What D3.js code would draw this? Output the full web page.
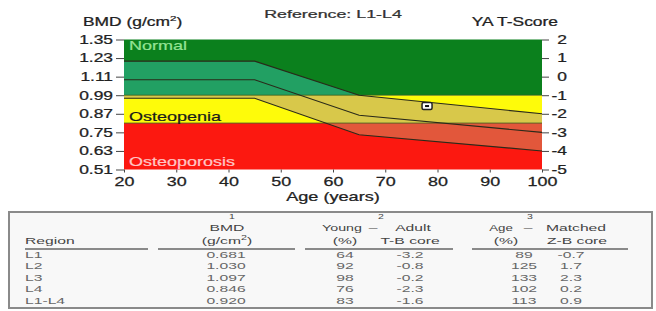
<!DOCTYPE html>
<html>
<head>
<meta charset="utf-8">
<script src="https://cdn.jsdelivr.net/npm/d3@7"></script>
<style>
body{margin:0;background:#fff;}
svg{display:block;font-family:"Liberation Sans",Arial,sans-serif;}
</style>
</head>
<body>
<svg id="chart" width="656" height="311"></svg>
<script>
// reference curve (age vs BMD)
var ages      = [20, 45, 65, 100];
var upperLine = [1.21, 1.21, 0.99, 0.87];
var meanLine  = [1.09, 1.09, 0.86, 0.75];
var lowerLine = [0.97, 0.97, 0.735, 0.63];

// zones in T-score units
var zoneNames  = ["Normal", "Osteopenia", "Osteoporosis"];
var zoneTop    = [2, -1, -2.5];
var zoneBottom = [-1, -2.5, -5];

var bmdTicks = [0.51, 0.63, 0.75, 0.87, 0.99, 1.11, 1.23, 1.35];
var tTicks   = [-5, -4, -3, -2, -1, 0, 1, 2];
var ageTicks = [20, 30, 40, 50, 60, 70, 80, 90, 100];

var patientAge = 78;
var patientBmd = 0.920;

// table
var regions  = ["L1", "L2", "L3", "L4", "L1-L4"];
var bmdVals  = ["0.681", "1.030", "1.097", "0.846", "0.920"];
var youngPct = ["64", "92", "98", "76", "83"];
var tScores  = ["-3.2", "-0.8", "-0.2", "-2.3", "-1.6"];
var agePct   = ["89", "125", "133", "102", "113"];
var zScores  = ["-0.7", "1.7", "2.3", "0.2", "0.9"];

var zoneColors  = ["#0b801d", "#fefb0a", "#fc1810"];
var bandColors  = ["#22a063", "#d8c84a", "#e2573b"];
var labelColors = ["#94e494", "#1a1a1a", "#ffc6c6"];

var svg = d3.select("#chart");

var txt = function(parent, x, y, s, size, sx, anchor, fill, bold)
{
    var t = parent.append("text")
        .attr("transform", "translate(" + x + "," + y + ") scale(" + sx + ",1)")
        .attr("text-anchor", anchor || "start")
        .attr("font-size", size)
        .attr("fill", fill || "#222")
        .text(s);
    if (bold) {
        t.attr("stroke", fill || "#222").attr("stroke-width", bold);
    }
    return t;
};

var pLeft = 124, pRight = 542, pTop = 39.5, pBottom = 169.5;

var xScale = d3.scaleLinear().domain([20, 100]).range([pLeft, pRight]);
var yScale = d3.scaleLinear().domain([0.51, 1.35]).range([pBottom, pTop]);
var tScale = d3.scaleLinear().domain([-5, 2]).range([pBottom, pTop]);

//zones
var defs = svg.append("defs");
zoneNames.forEach(function(name, i){
    defs.append("clipPath").attr("id", "clip" + i)
        .append("rect")
        .attr("x", pLeft).attr("width", pRight - pLeft)
        .attr("y", tScale(zoneTop[i]))
        .attr("height", tScale(zoneBottom[i]) - tScale(zoneTop[i]));
});

svg.selectAll("rect.zone")
    .data(zoneNames)
    .enter()
    .append("rect")
    .attr("class", "zone")
    .attr("x", pLeft)
    .attr("width", pRight - pLeft)
    .attr("y", function(d, i){ return tScale(zoneTop[i]); })
    .attr("height", function(d, i){ return tScale(zoneBottom[i]) - tScale(zoneTop[i]); })
    .attr("fill", function(d, i){ return zoneColors[i]; });

//age matched band
var band = d3.area()
    .x(function(d, i){ return xScale(ages[i]); })
    .y0(function(d, i){ return yScale(lowerLine[i]); })
    .y1(function(d, i){ return yScale(upperLine[i]); });

zoneNames.forEach(function(name, i){
    svg.append("path")
        .datum(ages)
        .attr("d", band)
        .attr("fill", bandColors[i])
        .attr("clip-path", "url(#clip" + i + ")");
});

// zone boundaries
var bounds = [zoneBottom[0], zoneBottom[1]];
bounds.forEach(function(t){
    svg.append("line")
        .attr("x1", pLeft).attr("x2", pRight)
        .attr("y1", tScale(t)).attr("y2", tScale(t))
        .attr("stroke", "#3a5a20").attr("stroke-width", 0.8);
});

var line = function(vals)
{
    return d3.line()
        .x(function(d, i){ return xScale(ages[i]); })
        .y(function(d, i){ return yScale(vals[i]); })(ages);
};

var curves = [upperLine, meanLine, lowerLine];
curves.forEach(function(vals){
    svg.append("path")
        .attr("d", line(vals))
        .attr("fill", "none")
        .attr("stroke", "#2a2a1a")
        .attr("stroke-width", 1.1);
});

// zone labels
txt(svg, pLeft + 5, pTop + 10.5, zoneNames[0], 12, 1.5, "start", labelColors[0], 0.2);
txt(svg, pLeft + 5, tScale(zoneBottom[1]) - 2, zoneNames[1], 12, 1.5, "start", labelColors[1], 0.2);
txt(svg, pLeft + 5, pBottom - 3.5, zoneNames[2], 12, 1.5, "start", labelColors[2], 0.2);

// patient marker
var px = xScale(patientAge), py = yScale(patientBmd);
svg.append("rect")
    .attr("x", px - 5).attr("y", py - 3.5)
    .attr("width", 10).attr("height", 7)
    .attr("rx", 1.5)
    .attr("fill", "#fff")
    .attr("stroke", "#222")
    .attr("stroke-width", 1.5);
svg.append("rect")
    .attr("x", px - 2).attr("y", py - 1)
    .attr("width", 4).attr("height", 2)
    .attr("fill", "#111");

//axes
var yAxis = svg.append("g")
    .attr("transform", "translate(" + pLeft + ",0)")
    .call(d3.axisLeft(yScale).tickValues(bmdTicks).tickFormat(d3.format(".2f")).tickSize(8));
yAxis.selectAll("text")
    .attr("x", -11 / 1.45)
    .attr("transform", "scale(1.45,1)")
    .attr("font-size", 12);

var tAxis = svg.append("g")
    .attr("transform", "translate(" + pRight + ",0)")
    .call(d3.axisRight(tScale).tickValues(tTicks).tickFormat(function(d){ return String(d); }).tickSize(7));
tAxis.selectAll("text")
    .attr("x", 25 / 1.45)
    .attr("text-anchor", "end")
    .attr("transform", "scale(1.45,1)")
    .attr("font-size", 12);

var xAxis = svg.append("g")
    .attr("transform", "translate(0," + pBottom + ")")
    .call(d3.axisBottom(xScale).tickValues(ageTicks).tickSize(3));
xAxis.selectAll("text")
    .attr("y", 7)
    .attr("transform", "scale(1.38,1)")
    .attr("font-size", 13);

svg.selectAll(".domain").remove();
svg.selectAll(".tick line").attr("stroke", "#444");
svg.selectAll(".tick text")
    .attr("fill", "#222")
    .attr("stroke", "#222")
    .attr("stroke-width", 0.25)
    .attr("font-family", "Liberation Sans, Arial, sans-serif");

// titles
txt(svg, 333, 18, "Reference: L1-L4", 11.5, 1.55, "middle", "#333", 0.25);
var bmdTitle = txt(svg, 83, 26, "BMD (g/cm", 12, 1.45, "start", "#222", 0.25);
bmdTitle.append("tspan").attr("dy", -5).attr("font-size", 8).text("2");
bmdTitle.append("tspan").attr("dy", 5).text(")");
txt(svg, 558, 26, "YA T-Score", 12, 1.45, "end", "#222", 0.25);
txt(svg, 333, 201, "Age (years)", 12.5, 1.45, "middle", "#222", 0.25);

// table
var table = svg.append("g");
table.append("rect")
    .attr("x", 9).attr("y", 212)
    .attr("width", 643).attr("height", 96)
    .attr("fill", "#f8f8f8")
    .attr("stroke", "#8a8a8a")
    .attr("stroke-width", 2);

var hs = 9.5, sx = 1.65, hc = "#444", dc = "#666";

txt(table, 232, 219, "1", 7.5, 1.4, "middle", hc);
txt(table, 227, 230.5, "BMD", hs, sx, "middle", hc);
var unit = txt(table, 227, 243.5, "(g/cm", hs, sx, "middle", hc);
unit.append("tspan").attr("dy", -3.5).attr("font-size", 6.5).text("2");
unit.append("tspan").attr("dy", 3.5).text(")");
txt(table, 25, 243.5, "Region", hs, sx, "start", hc);

txt(table, 381, 219, "2", 7.5, 1.4, "middle", hc);
txt(table, 342, 230.5, "Young", hs, 1.5, "middle", hc);
txt(table, 373, 230.5, "\u2013", hs, sx, "middle", hc);
txt(table, 413, 230.5, "Adult", hs, sx, "middle", hc);
txt(table, 345, 243.5, "(%)", hs, sx, "middle", hc);
txt(table, 410, 243.5, "T-B core", hs, sx, "middle", hc);

txt(table, 530, 219, "3", 7.5, 1.4, "middle", hc);
txt(table, 501, 230.5, "Age", hs, 1.4, "middle", hc);
txt(table, 528, 230.5, "\u2013", hs, sx, "middle", hc);
txt(table, 576, 230.5, "Matched", hs, sx, "middle", hc);
txt(table, 506, 243.5, "(%)", hs, sx, "middle", hc);
txt(table, 577, 243.5, "Z-B core", hs, sx, "middle", hc);

var rules = [[25, 148], [158, 295], [305, 453], [472, 628]];
rules.forEach(function(seg){
    table.append("line")
        .attr("x1", seg[0]).attr("x2", seg[1])
        .attr("y1", 249).attr("y2", 249)
        .attr("stroke", "#8a8a8a").attr("stroke-width", 2);
});

var rowY = d3.scaleLinear().domain([0, regions.length - 1]).range([257.5, 303.5]);
var cols = [
    {vals: regions,  x: 25,  anchor: "start"},
    {vals: bmdVals,  x: 226, anchor: "middle"},
    {vals: youngPct, x: 345, anchor: "middle"},
    {vals: tScores,  x: 410, anchor: "middle"},
    {vals: agePct,   x: 524, anchor: "middle"},
    {vals: zScores,  x: 571, anchor: "middle"}
];
cols.forEach(function(col){
    col.vals.forEach(function(v, i){
        txt(table, col.x, rowY(i), v, hs, sx, col.anchor, dc);
    });
});
</script>
</body>
</html>
